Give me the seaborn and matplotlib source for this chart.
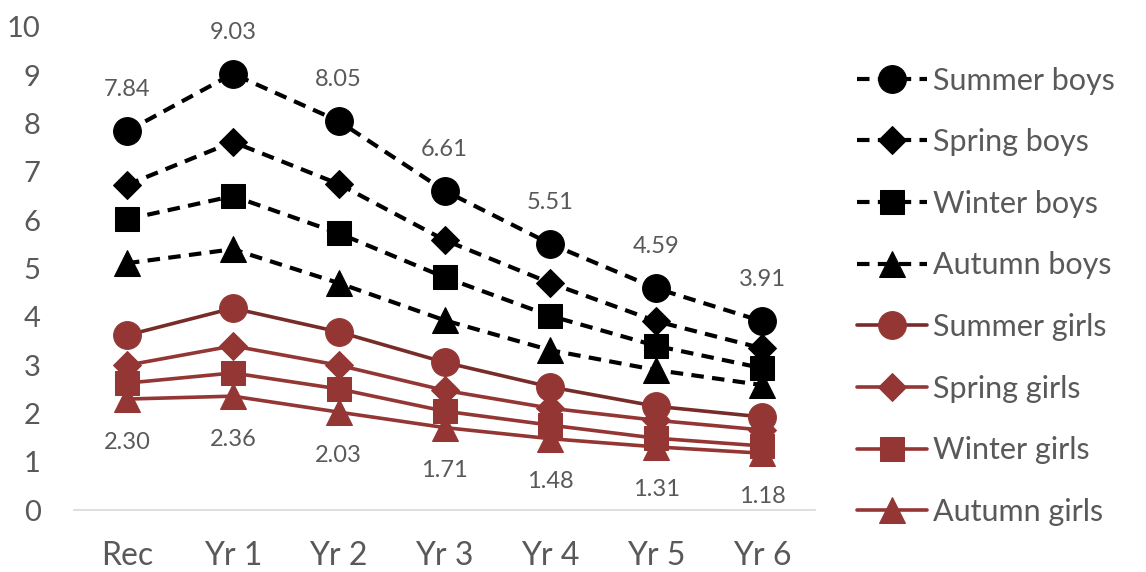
import pandas as pd
import seaborn as sns
import matplotlib.pyplot as plt

years = ["Rec", "Yr 1", "Yr 2", "Yr 3", "Yr 4", "Yr 5", "Yr 6"]

summer_boys = [7.84, 9.03, 8.05, 6.61, 5.51, 4.59, 3.91]
spring_boys = [6.73, 7.62, 6.75, 5.59, 4.70, 3.91, 3.35]
winter_boys = [6.02, 6.50, 5.73, 4.82, 4.02, 3.40, 2.94]
autumn_boys = [5.11, 5.40, 4.70, 3.93, 3.31, 2.90, 2.59]
summer_girls = [3.62, 4.18, 3.69, 3.06, 2.55, 2.15, 1.93]
spring_girls = [3.00, 3.40, 3.00, 2.48, 2.11, 1.86, 1.66]
winter_girls = [2.63, 2.84, 2.51, 2.05, 1.76, 1.49, 1.33]
autumn_girls = [2.30, 2.36, 2.03, 1.71, 1.48, 1.31, 1.18]

series = {
    "Summer boys": summer_boys,
    "Spring boys": spring_boys,
    "Winter boys": winter_boys,
    "Autumn boys": autumn_boys,
    "Summer girls": summer_girls,
    "Spring girls": spring_girls,
    "Winter girls": winter_girls,
    "Autumn girls": autumn_girls,
}

sns.set_style("white")
plt.rcParams["font.family"] = ["Lato", "DejaVu Sans"]

text_grey = "#595959"
red = "#943634"
dark_red = "#772c2a"

styles = {
    "Summer boys": dict(color="black", marker="o", ms=20, ls=(0, (3, 2)), lw=3),
    "Spring boys": dict(color="black", marker="D", ms=14, ls=(0, (3, 2)), lw=3),
    "Winter boys": dict(color="black", marker="s", ms=17, ls=(0, (3, 2)), lw=3),
    "Autumn boys": dict(color="black", marker="^", ms=19, ls=(0, (3, 2)), lw=3),
    "Summer girls": dict(color=red, marker="o", ms=20, ls="-", lw=2.6, line=dark_red),
    "Spring girls": dict(color=red, marker="D", ms=14, ls="-", lw=2.6),
    "Winter girls": dict(color=red, marker="s", ms=17, ls="-", lw=2.6),
    "Autumn girls": dict(color=red, marker="^", ms=19, ls="-", lw=2.6),
}

rows = []
for name, vals in series.items():
    for i, v in enumerate(vals):
        rows.append({"series": name, "x": i, "value": v})
df = pd.DataFrame(rows)

fig = plt.figure(figsize=(11.46, 5.72), dpi=100)
ax = fig.add_axes([0.0646, 0.108, 0.6466, 0.845])

for name in series:
    st = styles[name]
    sub = df[df["series"] == name]
    sns.lineplot(
        data=sub, x="x", y="value", ax=ax,
        color=st.get("line", st["color"]), linestyle=st["ls"], linewidth=st["lw"],
        marker=st["marker"], markersize=st["ms"],
        markerfacecolor=st["color"], markeredgecolor=st["color"],
        label=name, legend=False,
    )

for i, v in enumerate(summer_boys):
    ax.annotate(f"{v:.2f}", (i, v), xytext=(0, 30), textcoords="offset points",
                ha="center", va="center", fontsize=17, color=text_grey)
for i, v in enumerate(autumn_girls):
    ax.annotate(f"{v:.2f}", (i, v), xytext=(0, -31), textcoords="offset points",
                ha="center", va="center", fontsize=17, color=text_grey)

ax.set_xlim(-0.5, 6.5)
ax.set_ylim(0, 10)
ax.set_yticks(range(0, 11))
ax.set_xticks(range(len(years)))
ax.set_xticklabels(years)
ax.set_xticks([i - 0.5 for i in range(len(years) + 1)], minor=True)
ax.tick_params(axis="x", which="major", length=0, labelsize=23, labelcolor=text_grey, pad=22)
ax.tick_params(axis="x", which="minor", length=8, width=1.2, color="#d9d9d9", direction="out")
ax.tick_params(axis="y", length=0, labelsize=21, labelcolor=text_grey, pad=24)
ax.set_xlabel("")
ax.set_ylabel("")

for side in ["top", "right", "left"]:
    ax.spines[side].set_visible(False)
ax.spines["bottom"].set_color("#d9d9d9")
ax.spines["bottom"].set_linewidth(1.2)

handles, labels = ax.get_legend_handles_labels()
leg = fig.legend(handles, labels, loc="upper left", bbox_to_anchor=(0.737, 0.905),
                 frameon=False, fontsize=22, handlelength=2.3, handletextpad=0.2,
                 labelspacing=1.1, borderaxespad=0)
for t in leg.get_texts():
    t.set_color(text_grey)

fig.savefig("out.png", dpi=100)
